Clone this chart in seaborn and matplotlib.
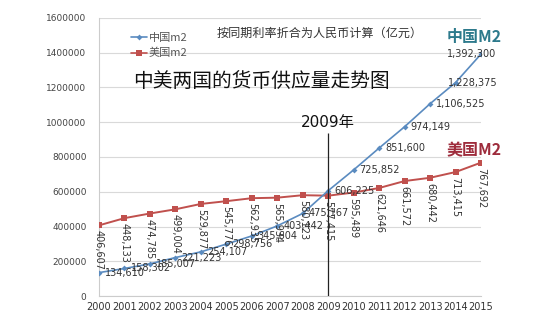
import matplotlib
matplotlib.use("Agg")
import matplotlib.pyplot as plt
import pandas as pd
import seaborn as sns
from matplotlib.lines import Line2D

# M2 money supply, converted to RMB (亿元)
years = list(range(2000, 2016))
china_m2 = [134610, 158302, 185007, 221223, 254107, 298756, 345604, 403442,
            475167, 606225, 725852, 851600, 974149, 1106525, 1228375, 1392300]
us_m2 = [406607, 448133, 474785, 499004, 529877, 545776, 562935, 565934,
         580123, 577415, 595489, 621646, 661572, 680442, 713415, 767692]
series_names = ["中国m2", "美国m2"]
y_ticks = list(range(0, 1600001, 200000))
marker_year = 2009

CN_COLOR = "#5a8bc0"
US_COLOR = "#c0504d"
CJK = ["Noto Sans CJK SC", "DejaVu Sans"]

sns.set_theme(style="white")
plt.rcParams["font.family"] = ["DejaVu Sans", "Noto Sans CJK SC"]

df = pd.DataFrame({
    "年份": years * 2,
    "M2": china_m2 + us_m2,
    "系列": [series_names[0]] * len(years) + [series_names[1]] * len(years),
})

fig = plt.figure(figsize=(5.5, 3.3), dpi=100)
ax = fig.add_axes([99 / 550, 34 / 330, 382 / 550, 278 / 330])

sns.lineplot(data=df[df["系列"] == series_names[1]], x="年份", y="M2",
             color=US_COLOR, marker="s", markersize=4.4, markeredgewidth=0,
             linewidth=1.4, ax=ax, legend=False, zorder=3)
sns.lineplot(data=df[df["系列"] == series_names[0]], x="年份", y="M2",
             color=CN_COLOR, marker="D", markersize=3.0, markeredgewidth=0,
             linewidth=1.2, ax=ax, legend=False, zorder=4)

ax.set_xlim(years[0], years[-1])
ax.set_ylim(y_ticks[0], y_ticks[-1])
ax.set_xticks(years)
ax.set_xticklabels([str(y) for y in years], fontsize=7, color="#333333")
ax.set_yticks(y_ticks)
ax.set_yticklabels([str(v) for v in y_ticks], fontsize=6.5, color="#444444")
ax.tick_params(axis="y", length=0, pad=9)
ax.tick_params(axis="x", length=3, width=0.6, color="#bbbbbb", pad=4,
               direction="in")
ax.set_xlabel("")
ax.set_ylabel("")
ax.grid(axis="y", color="#d9d9d9", linewidth=0.8)
ax.set_axisbelow(True)
for side in ("top", "right"):
    ax.spines[side].set_visible(False)
for side in ("left", "bottom"):
    ax.spines[side].set_color("#cccccc")
    ax.spines[side].set_linewidth(0.8)

# 2009 reference line
ax.vlines(marker_year, 0, 940000, color="#222222", linewidth=0.9, zorder=5)
ax.text(marker_year, 1000000, "2009年", ha="center", va="center",
        fontsize=11, color="#111111", family=["DejaVu Sans", "Noto Sans CJK SC"],
        zorder=6)

# value labels: China to the right of each point, US rotated below
px = 0.72
cn_dx = [6] * 14 + [-8, -34]
for yr, v, dx in zip(years, china_m2, cn_dx):
    ax.annotate(f"{v:,}", (yr, v), xytext=(dx * px, 0),
                textcoords="offset points", ha="left", va="center",
                fontsize=7, color="#333333", zorder=6)
for yr, v in zip(years, us_m2):
    ax.annotate(f"{v:,}", (yr, v), xytext=(0, -5 * px),
                textcoords="offset points", ha="center", va="top",
                rotation=-90, fontsize=7, color="#333333", zorder=6)

# titles
fig.text(217 / 550, 1 - 33 / 330, "按同期利率折合为人民币计算（亿元）",
         ha="left", va="center", fontsize=8.7, color="#333333",
         family=CJK, fontweight="medium")
fig.text(133 / 550, 1 - 82 / 330, "中美两国的货币供应量走势图",
         ha="left", va="center", fontsize=14.2, color="#111111", family=CJK)
fig.text(474 / 550, 1 - 37 / 330, "中国M2", ha="center", va="center",
         fontsize=11.5, color="#2d7a8c", family=CJK, fontweight="bold")
fig.text(474 / 550, 1 - 150 / 330, "美国M2", ha="center", va="center",
         fontsize=11.5, color="#9e2c3c", family=CJK, fontweight="bold")

# legend
handles = [
    Line2D([], [], color=CN_COLOR, marker="D", markersize=3, linewidth=1.2,
           markeredgewidth=0),
    Line2D([], [], color=US_COLOR, marker="s", markersize=4, linewidth=1.2,
           markeredgewidth=0),
]
leg = ax.legend(handles, series_names, loc="upper left",
                bbox_to_anchor=(131 / 550, 1 - 33 / 330),
                bbox_transform=fig.transFigure, frameon=False,
                handlelength=1.45, handletextpad=0.15,
                labelspacing=0.45, borderpad=0, borderaxespad=0,
                prop={"family": CJK, "size": 8})
for t in leg.get_texts():
    t.set_color("#555555")

fig.savefig("out.png", dpi=100, facecolor="white")
